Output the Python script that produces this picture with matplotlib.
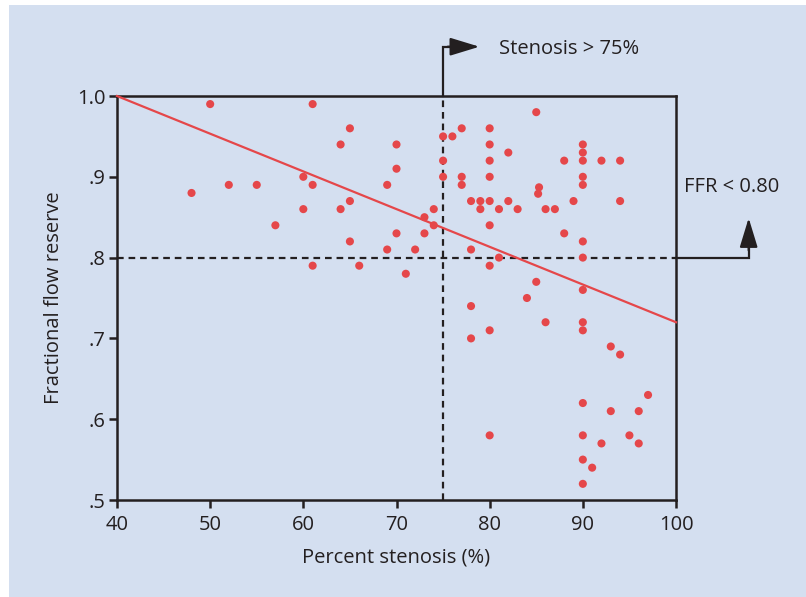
import numpy as np
import matplotlib.pyplot as plt
from matplotlib.patches import Rectangle

plt.rcParams['font.family'] = ['Open Sans', 'DejaVu Sans']

# percent stenosis vs fractional flow reserve
stenosis = [50, 61, 65, 64, 70, 70, 48, 52, 55, 60, 61, 60, 64, 65, 69, 57, 65, 69, 70, 61, 66,
            75, 76, 77, 80, 80, 85, 82, 75, 80, 75, 77, 80, 77, 78, 79, 80, 79, 81, 82, 83,
            85.3, 85.2, 86, 87, 88, 90, 90, 90, 92, 94, 90, 90, 89, 94,
            74, 73, 74, 73, 72, 71, 78, 80, 88, 90, 81, 90, 80, 85, 90, 84,
            78, 86, 90, 90, 80, 78, 93, 94, 97, 90, 93, 96, 80, 90, 95, 92, 96, 90, 91, 90]
ffr = [0.99, 0.99, 0.96, 0.94, 0.94, 0.91, 0.88, 0.89, 0.89, 0.90, 0.89, 0.86, 0.86, 0.87, 0.89, 0.84, 0.82, 0.81, 0.83, 0.79, 0.79,
       0.95, 0.95, 0.96, 0.96, 0.94, 0.98, 0.93, 0.92, 0.92, 0.90, 0.90, 0.90, 0.89, 0.87, 0.87, 0.87, 0.86, 0.86, 0.87, 0.86,
       0.887, 0.879, 0.86, 0.86, 0.92, 0.94, 0.93, 0.92, 0.92, 0.92, 0.90, 0.89, 0.87, 0.87,
       0.86, 0.85, 0.84, 0.83, 0.81, 0.78, 0.81, 0.84, 0.83, 0.82, 0.80, 0.80, 0.79, 0.77, 0.76, 0.75,
       0.74, 0.72, 0.72, 0.71, 0.71, 0.70, 0.69, 0.68, 0.63, 0.62, 0.61, 0.61, 0.58, 0.58, 0.58, 0.57, 0.57, 0.55, 0.54, 0.52]

# regression line end points
fit_x = [40, 100]
fit_y = [1.0, 0.72]

# thresholds
stenosis_cut = 75
ffr_cut = 0.80

xticks = [40, 50, 60, 70, 80, 90, 100]
yticks = [0.5, 0.6, 0.7, 0.8, 0.9, 1.0]
yticklabels = ['.5', '.6', '.7', '.8', '.9', '1.0']

bg = '#d4dff0'
red = '#e5474a'
ink = '#231f20'
fs = 14.5

fig = plt.figure(figsize=(8.06, 5.97), dpi=100)
fig.patch.set_facecolor('white')
fig.patches.append(Rectangle((9 / 806, 0), 1, 1 - 5 / 597, transform=fig.transFigure,
                             facecolor=bg, edgecolor='none', zorder=-10))

ax = fig.add_axes([117 / 806, 1 - 500 / 597, 559 / 806, 404 / 597])
ax.set_facecolor(bg)
ax.set_xlim(40, 100)
ax.set_ylim(0.5, 1.0)

ax.plot(fit_x, fit_y, color=red, lw=1.6, zorder=3, clip_on=False)
ax.scatter(stenosis, ffr, s=34, color=red, edgecolors='none', zorder=4, clip_on=False)

# dashed threshold lines
ax.plot([stenosis_cut, stenosis_cut], [0.5, 1.0], ls=(0, (3, 2.2)), color=ink, lw=1.6, zorder=2)
ax.plot([40, 100], [ffr_cut, ffr_cut], ls=(0, (3, 2.2)), color=ink, lw=1.6, zorder=2)

# solid leaders + arrows outside the box
top_y = 1.061
arrow_x = 78.9
ax.plot([stenosis_cut, stenosis_cut, arrow_x - 3.3], [1.0, top_y, top_y], color=ink, lw=1.6,
        clip_on=False, solid_joinstyle='miter')
ax.annotate('', xy=(arrow_x, top_y), xytext=(arrow_x - 3.4, top_y), xycoords='data',
            arrowprops=dict(arrowstyle='-|>,head_length=1.8,head_width=0.55', color=ink, lw=1.6,
                            shrinkA=0, shrinkB=0), annotation_clip=False)
ax.text(81.0, top_y - 0.003, 'Stenosis > 75%', fontsize=fs, color=ink, va='center', ha='left', clip_on=False)

right_x = 107.8
arrow_y = 0.849
ax.plot([100, right_x, right_x], [ffr_cut, ffr_cut, arrow_y - 0.035], color=ink, lw=1.6,
        clip_on=False, solid_joinstyle='miter')
ax.annotate('', xy=(right_x, arrow_y), xytext=(right_x, arrow_y - 0.04), xycoords='data',
            arrowprops=dict(arrowstyle='-|>,head_length=1.8,head_width=0.55', color=ink, lw=1.6,
                            shrinkA=0, shrinkB=0), annotation_clip=False)
ax.text(100.9, 0.887, 'FFR < 0.80', fontsize=fs, color=ink, va='center', ha='left', clip_on=False)

for side in ['left', 'bottom', 'top', 'right']:
    ax.spines[side].set_color(ink)
    ax.spines[side].set_linewidth(1.8)

ax.set_xticks(xticks)
ax.set_yticks(yticks)
ax.set_yticklabels(yticklabels)
ax.tick_params(direction='out', length=5.5, width=1.8, color=ink, labelcolor=ink, labelsize=fs)
ax.tick_params(axis='x', pad=5)
ax.tick_params(axis='y', pad=3)

ax.set_xlabel('Percent stenosis (%)', fontsize=fs, color=ink, labelpad=9)
ax.set_ylabel('Fractional flow reserve', fontsize=fs, color=ink, labelpad=9)

fig.savefig('out.png', dpi=100, facecolor=fig.get_facecolor())
